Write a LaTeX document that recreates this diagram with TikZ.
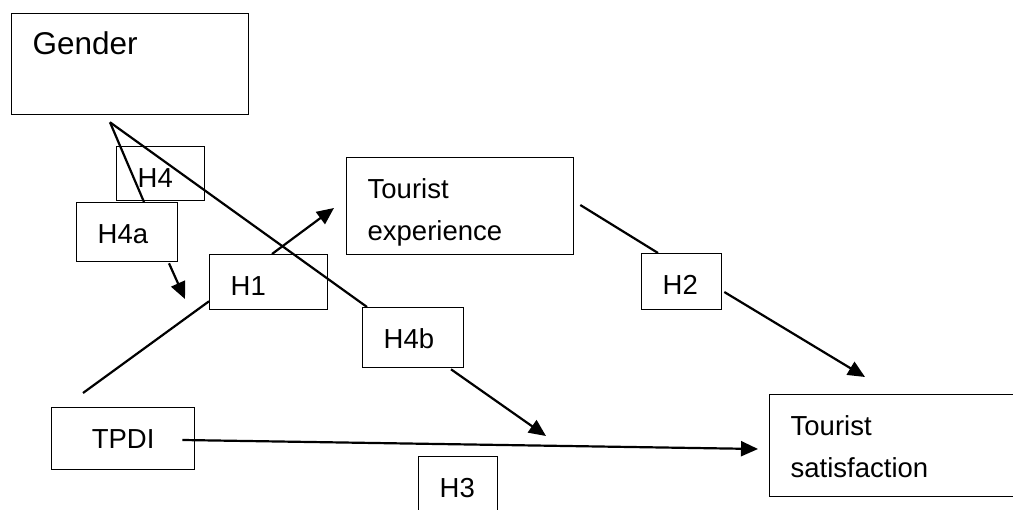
\documentclass[tikz,border=0pt]{standalone}
\usepackage{fontspec}
\setmainfont{Liberation Sans}
\usetikzlibrary{arrows.meta,calc}

\tikzset{
    varbox/.style 2 args={draw, line width=1.3pt, anchor=north west,
        inner xsep=21pt, inner ysep=0pt, align=left,
        text width=#1, text height=41pt, text depth=#2,
        font=\fontsize{27.5pt}{42pt}\selectfont},
    link/.style={line width=2.2pt},
    arr/.style={link, -{Triangle[length=17pt,width=15pt]}}
}

\begin{document}
\begin{tikzpicture}[x=1pt,y=-1pt]
    \useasboundingbox (0,0) rectangle (1013,510);
    \clip (0,0) rectangle (1013,510);
    %% variables
    \node[varbox={195pt}{60pt}, font=\fontsize{31.5pt}{42pt}\selectfont] (gender) at (11,13) {Gender};
    \node[varbox={185pt}{56pt}] (texp) at (346,157) {Tourist\\experience};
    \node[varbox={101pt}{21pt}, align=center] (tpdi) at (51,407) {TPDI};
    \node[varbox={208pt}{61pt}] (tsat) at (769,394) {Tourist\\satisfaction};
    %% hypotheses
    \node[varbox={46pt}{13pt}] (h4) at (116,146) {H4};
    \node[varbox={59pt}{18pt}] (h4a) at (76,202) {H4a};
    \node[varbox={76pt}{14pt}] (h1) at (209,254) {H1};
    \node[varbox={59pt}{19pt}] (h4b) at (362,307) {H4b};
    \node[varbox={38pt}{15pt}] (h2) at (641,253) {H2};
    \node[varbox={37pt}{19pt}] (h3) at (418,456) {H3};
    %% free ends
    \coordinate (gfork) at ($(gender.south west)+(99,7)$);
    \coordinate (tpdiup) at ($(tpdi.north west)+(32,-14)$);
    \coordinate (h4atip) at (185,299);
    \coordinate (h4btip) at (546,436);
    \coordinate (h1tip) at (334,208);
    \coordinate (h2tip) at (865,377);
    %% paths
    \draw[link] (gfork) -- ($(h4a.north west)+(68,0)$);
    \draw[link] (gfork) -- ($(h4b.north west)+(5,0)$);
    \draw[arr] ($(h4a.south west)+(93,1)$) -- (h4atip);
    \draw[arr] ($(h4b.south west)+(89,1)$) -- (h4btip);
    \draw[link] (tpdiup) -- ($(h1.south west)+(0,-9)$);
    \draw[arr] ($(h1.north west)+(63,0)$) -- (h1tip);
    \draw[link] ($(texp.north east)+(6,48)$) -- ($(h2.north west)+(17,0)$);
    \draw[arr] ($(h2.north east)+(2,39)$) -- (h2tip);
    \draw[arr] ($(tpdi.north east)+(-13,33)$) -- ($(tsat.north west)+(-11,55)$);
\end{tikzpicture}
\end{document}
